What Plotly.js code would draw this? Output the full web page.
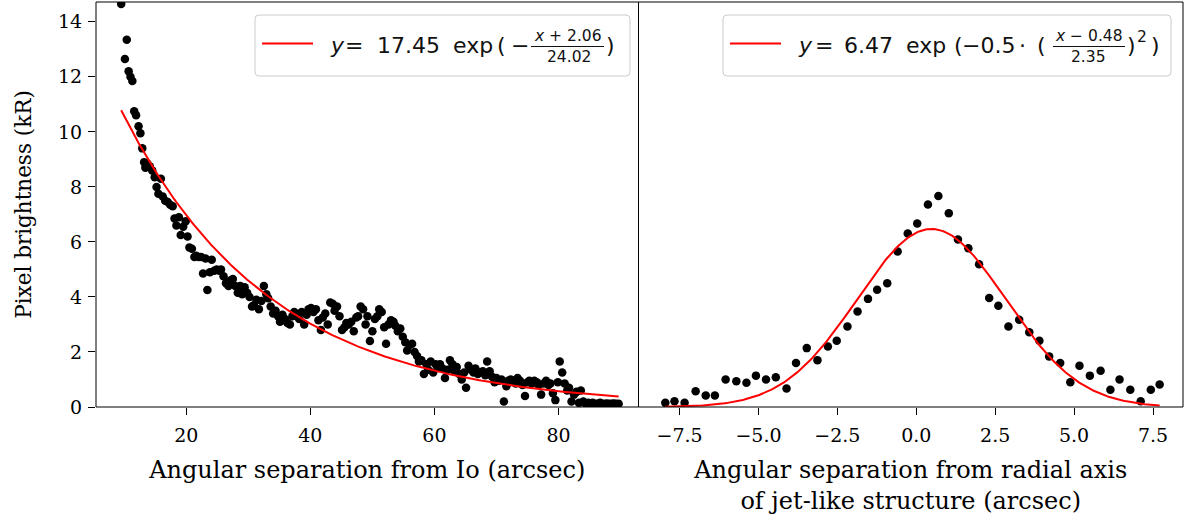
<!DOCTYPE html>
<html>
<head>
<meta charset="utf-8">
<script src="https://cdn.plot.ly/plotly-3.0.1.min.js"></script>
<style>html,body{margin:0;padding:0;background:#fff;}#chart{width:1188px;height:517px;}</style>
</head>
<body>
<div id="chart"></div>
<script>
// ---- Data ----
const leftX = [9.5,10.1,10.4,10.7,11.0,11.3,11.6,11.9,12.3,12.6,12.9,13.2,13.4,13.7,14.1,14.5,14.9,15.2,15.5,15.9,16.2,16.6,17.0,17.4,17.8,18.1,18.4,18.8,19.1,19.5,19.9,20.2,20.5,20.9,21.3,21.6,22.0,22.4,22.7,23.1,23.4,23.8,24.1,24.5,24.9,25.3,25.6,26.0,26.4,26.8,27.1,27.5,27.9,28.3,28.7,29.0,29.4,29.8,30.2,30.6,30.9,31.3,31.7,32.1,32.5,32.9,33.2,33.6,34.0,34.4,34.8,35.1,35.5,35.9,36.3,36.7,37.1,37.4,37.8,38.2,38.6,39.0,39.4,39.7,40.1,40.5,40.9,41.3,41.7,42.0,42.4,42.8,43.2,43.6,43.9,44.3,44.7,45.1,45.5,45.8,46.2,46.6,47.0,47.4,47.7,48.1,48.5,48.9,49.2,49.6,50.0,50.4,50.8,51.1,51.5,51.9,52.2,52.6,53.0,53.4,53.7,54.1,54.5,54.9,55.3,55.6,56.0,56.4,56.8,57.2,57.5,57.9,58.3,58.7,59.0,59.4,59.8,60.2,60.6,60.9,61.3,61.7,62.1,62.5,62.9,63.2,63.6,64.0,64.4,64.8,65.1,65.5,65.9,66.3,66.6,67.0,67.4,67.8,68.2,68.5,68.9,69.3,69.7,70.0,70.4,70.8,71.2,71.6,71.9,72.3,72.7,73.1,73.4,73.8,74.2,74.6,75.0,75.3,75.7,76.1,76.5,76.8,77.2,77.6,78.0,78.4,78.7,79.1,79.5,79.9,80.2,80.6,81.0,81.4,81.7,82.1,82.5,82.9,83.3,83.6,84.0,84.4,84.8,85.2,85.5,85.9,86.3,86.7,87.0,87.4,87.8,88.2,88.6,88.9,89.3,89.7];
const leftY = [14.65,12.65,13.35,12.2,12.0,11.85,10.75,10.6,10.2,9.95,9.4,8.9,8.7,8.85,8.75,8.6,8.35,8.0,7.75,8.3,7.65,7.5,7.45,7.35,7.3,6.85,6.6,6.9,6.25,6.55,6.75,6.2,5.8,5.75,5.45,5.5,5.45,5.45,4.85,5.4,4.25,4.9,5.35,4.95,5.0,4.95,5.0,4.75,4.5,4.4,4.6,4.65,4.4,4.15,4.4,4.1,4.35,4.15,4.0,3.65,3.7,3.9,3.55,3.85,4.4,4.1,3.95,3.65,3.4,3.5,3.3,3.1,3.35,3.2,3.05,3.0,3.3,3.45,3.3,3.2,3.45,3.0,3.35,3.55,3.6,3.45,3.55,3.15,2.8,3.25,3.4,3.0,3.8,3.75,3.5,3.65,3.3,2.8,2.9,3.05,3.0,3.1,2.75,3.25,3.3,3.65,3.55,3.0,3.3,2.4,2.75,3.2,3.3,3.55,3.45,2.9,2.3,3.0,3.15,3.1,2.95,2.75,2.85,2.55,2.35,2.05,2.25,2.3,2.0,1.85,1.65,1.7,1.2,1.55,1.35,1.65,1.25,1.55,1.45,1.55,1.4,1.05,1.35,1.7,1.55,1.3,1.45,1.2,1.0,1.25,0.7,1.5,1.35,1.25,1.4,1.2,1.25,1.3,1.15,1.65,1.3,1.1,0.9,1.05,0.95,1.0,0.2,0.75,0.95,1.0,0.95,0.85,1.05,0.95,0.8,0.4,0.9,0.95,0.85,0.95,0.9,0.8,0.45,0.85,0.95,0.8,0.85,0.5,0.25,0.9,1.65,1.25,0.85,0.6,0.7,0.2,0.45,0.55,0.15,0.6,0.2,0.12,0.15,0.12,0.15,0.12,0.12,0.15,0.12,0.12,0.13,0.12,0.12,0.13,0.12,0.12];

const rightX = [-7.95,-7.66,-7.34,-6.99,-6.67,-6.38,-6.04,-5.70,-5.38,-5.08,-4.76,-4.45,-4.11,-3.81,-3.47,-3.13,-2.80,-2.52,-2.18,-1.86,-1.53,-1.24,-0.92,-0.59,-0.27,0.03,0.37,0.70,1.03,1.32,1.65,1.99,2.31,2.60,2.92,3.26,3.58,3.90,4.21,4.56,4.88,5.17,5.50,5.84,6.15,6.44,6.78,7.11,7.43,7.71];
const rightY = [0.15,0.21,0.15,0.57,0.42,0.42,1.00,0.94,0.88,1.14,1.00,1.08,0.67,1.60,2.14,1.70,2.20,2.41,2.93,3.47,3.93,4.26,4.50,5.65,6.31,6.67,7.36,7.67,7.04,6.09,5.77,5.19,3.96,3.68,2.93,3.17,2.72,2.41,1.84,1.60,0.90,1.50,1.14,1.32,0.63,1.00,0.63,0.21,0.63,0.82];

// fitted model parameters, as printed in the legends
const expFit = [17.45, 2.06, 24.02];   // A, c, s  : y = A exp(-(x+c)/s)
const gaussFit = [6.47, 0.48, 2.35];   // A, mu, sd: y = A exp(-0.5((x-mu)/sd)^2)

const leftTicks = [20, 40, 60, 80];
const rightTicks = [-7.5, -5.0, -2.5, 0.0, 2.5, 5.0, 7.5];
const rightTickText = ['\u22127.5', '\u22125.0', '\u22122.5', '0.0', '2.5', '5.0', '7.5'];
const yTicks = [0, 2, 4, 6, 8, 10, 12, 14];

// ---- fit curves from model parameters ----
function sampleCurve(x0, x1, n, f) {
  const xs = [], ys = [];
  for (let i = 0; i <= n; i++) { const x = x0 + (x1 - x0) * i / n; xs.push(x); ys.push(f(x)); }
  return [xs, ys];
}
const [fx1, fy1] = sampleCurve(Math.min(...leftX), Math.max(...leftX), 300,
  x => expFit[0] * Math.exp(-(x + expFit[1]) / expFit[2]));
const [fx2, fy2] = sampleCurve(Math.min(...rightX), Math.max(...rightX), 300,
  x => gaussFit[0] * Math.exp(-0.5 * Math.pow((x - gaussFit[1]) / gaussFit[2], 2)));

// ---- layout geometry ----
const W = 1188, H = 517, ML = 96, MR = 5, MT = 2, MB = 110;
const PW = W - ML - MR, PH = H - MT - MB;
const split = (638.5 - ML) / PW;
const px = x => (x - ML) / PW;
const py = y => (H - MB - y) / PH;

const serif = 'DejaVu Serif, serif';
const sans = 'DejaVu Sans, sans-serif';
const txt = '#111111';

const traces = [
  {x: leftX, y: leftY, xaxis: 'x', yaxis: 'y', type: 'scatter', mode: 'markers',
   marker: {color: '#000', size: 8.5}, showlegend: false, hoverinfo: 'skip'},
  {x: fx1, y: fy1, xaxis: 'x', yaxis: 'y', type: 'scatter', mode: 'lines',
   line: {color: '#ff0000', width: 2}, showlegend: false, hoverinfo: 'skip'},
  {x: rightX, y: rightY, xaxis: 'x2', yaxis: 'y', type: 'scatter', mode: 'markers',
   marker: {color: '#000', size: 8.5}, showlegend: false, hoverinfo: 'skip'},
  {x: fx2, y: fy2, xaxis: 'x2', yaxis: 'y', type: 'scatter', mode: 'lines',
   line: {color: '#ff0000', width: 2}, showlegend: false, hoverinfo: 'skip'}
];

function roundBox(x0, y0, x1, y1, r) {
  const X = v => px(v), Y = v => py(v);
  return `M ${X(x0 + r)} ${Y(y0)} L ${X(x1 - r)} ${Y(y0)} Q ${X(x1)} ${Y(y0)} ${X(x1)} ${Y(y0 + r)} ` +
         `L ${X(x1)} ${Y(y1 - r)} Q ${X(x1)} ${Y(y1)} ${X(x1 - r)} ${Y(y1)} L ${X(x0 + r)} ${Y(y1)} ` +
         `Q ${X(x0)} ${Y(y1)} ${X(x0)} ${Y(y1 - r)} L ${X(x0)} ${Y(y0 + r)} Q ${X(x0)} ${Y(y0)} ${X(x0 + r)} ${Y(y0)} Z`;
}

const shapes = [
  {type: 'rect', xref: 'x domain', yref: 'y domain', x0: 0, x1: 1, y0: 0, y1: 1, line: {color: '#000', width: 1}},
  {type: 'rect', xref: 'x2 domain', yref: 'y domain', x0: 0, x1: 1, y0: 0, y1: 1, line: {color: '#000', width: 1}},
  {type: 'path', xref: 'paper', yref: 'paper', path: roundBox(255, 15, 630, 76, 4),
   line: {color: '#cccccc', width: 1}, fillcolor: 'rgba(255,255,255,0.8)', layer: 'above'},
  {type: 'path', xref: 'paper', yref: 'paper', path: roundBox(723, 15, 1171, 76, 4),
   line: {color: '#cccccc', width: 1}, fillcolor: 'rgba(255,255,255,0.8)', layer: 'above'},
  {type: 'line', xref: 'paper', yref: 'paper', x0: px(262), x1: px(313), y0: py(43.5), y1: py(43.5),
   line: {color: '#ff0000', width: 2}, layer: 'above'},
  {type: 'line', xref: 'paper', yref: 'paper', x0: px(730), x1: px(781), y0: py(43.5), y1: py(43.5),
   line: {color: '#ff0000', width: 2}, layer: 'above'},
  {type: 'line', xref: 'paper', yref: 'paper', x0: px(531), x1: px(604), y0: py(46.5), y1: py(46.5),
   line: {color: txt, width: 1}, layer: 'above'},
  {type: 'line', xref: 'paper', yref: 'paper', x0: px(1053), x1: px(1125), y0: py(46.5), y1: py(46.5),
   line: {color: txt, width: 1}, layer: 'above'}
];

function note(text, x, y, size, anchor) {
  return {text: text, xref: 'paper', yref: 'paper', x: px(x), y: py(y), xanchor: anchor || 'left',
          yanchor: 'middle', showarrow: false, borderpad: 0,
          font: {family: sans, size: size, color: txt}};
}
const L = 22, S = 15.5;
const annotations = [
  note('<i>y</i>', 329, 45, L),
  note('=', 344, 45, L),
  note('17.45', 376, 45, L),
  note('exp', 452, 45, L),
  note('(', 496, 45, L),
  note('\u2212', 510, 45, L),
  note('<i>x</i> + 2.06', 568, 36, S, 'center'),
  note('24.02', 569, 57, S, 'center'),
  note(')', 605, 45, L),

  note('<i>y</i>', 797, 45, L),
  note('=', 814, 45, L),
  note('6.47', 843, 45, L),
  note('exp', 905, 45, L),
  note('(', 953, 45, L),
  note('\u22120.5', 961, 45, L),
  note('\u00b7', 1018, 45, L),
  note('(', 1036, 45, L),
  note('<i>x</i> \u2212 0.48', 1089, 36, S, 'center'),
  note('2.35', 1088, 57, S, 'center'),
  note(')', 1126, 45, L),
  note('2', 1136, 37, S),
  note(')', 1150, 45, L)
];

const tickFont = {family: serif, size: 19, color: '#000'};
const xTitleFont = {family: serif, size: 24, color: '#000'};
const yTitleFont = {family: serif, size: 21.5, color: '#000'};
const axBase = {ticks: 'outside', ticklen: 7, tickwidth: 1, tickcolor: '#000', showgrid: false,
                zeroline: false, showline: false, tickfont: tickFont, automargin: false};

const layout = {
  width: W, height: H,
  margin: {l: ML, r: MR, t: MT, b: MB, pad: 0},
  paper_bgcolor: '#fff', plot_bgcolor: '#fff',
  showlegend: false,
  xaxis: Object.assign({}, axBase, {domain: [0, split], anchor: 'y', range: [5.44, 92.9],
    tickvals: leftTicks, ticktext: leftTicks.map(String), ticklabelstandoff: 4,
    title: {text: 'Angular separation from Io (arcsec)', font: xTitleFont, standoff: 16}}),
  xaxis2: Object.assign({}, axBase, {domain: [split, 1], anchor: 'y', range: [-8.8, 8.45],
    tickvals: rightTicks, ticktext: rightTickText, ticklabelstandoff: 4,
    title: {text: 'Angular separation from radial axis<br>of jet-like structure (arcsec)', font: xTitleFont, standoff: 16}}),
  yaxis: Object.assign({}, axBase, {anchor: 'x', range: [0, 14.72], tickvals: yTicks, ticktext: yTicks.map(String),
    ticklabelstandoff: 2,
    title: {text: 'Pixel brightness (kR)', font: yTitleFont, standoff: 20}}),
  shapes: shapes,
  annotations: annotations
};

Plotly.newPlot('chart', traces, layout, {staticPlot: true, displayModeBar: false});
</script>
</body>
</html>
